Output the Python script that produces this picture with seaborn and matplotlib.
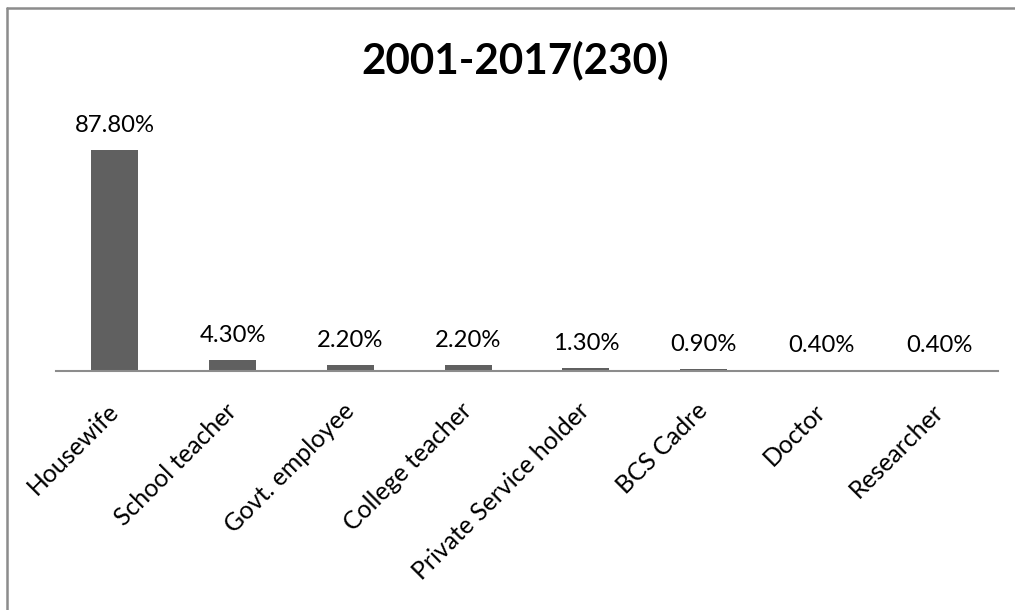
import matplotlib
matplotlib.use("Agg")
import matplotlib.pyplot as plt
from matplotlib.lines import Line2D
import seaborn as sns

# Occupation shares, 2001-2017 (n = 230)
categories = ["Housewife", "School teacher", "Govt. employee", "College teacher",
              "Private Service holder", "BCS Cadre", "Doctor", "Researcher"]
shares = [87.8, 4.3, 2.2, 2.2, 1.3, 0.9, 0.4, 0.4]
value_labels = ["87.80%", "4.30%", "2.20%", "2.20%", "1.30%", "0.90%", "0.40%", "0.40%"]
title_text = "2001-2017(230)"

sns.set_style("white")
plt.rcParams["font.family"] = ["Lato", "DejaVu Sans"]

W, H = 1015, 610
fig = plt.figure(figsize=(W / 100, H / 100), dpi=100)
fig.patch.set_facecolor("white")

# plot area in pixel terms
left_px, right_px, base_px = 56, 998, 371
ax_h_px = 251.7
ax = fig.add_axes([left_px / W, (H - base_px) / H,
                   (right_px - left_px) / W, ax_h_px / H])

sns.barplot(x=categories, y=shares, color="#606060", saturation=1,
            width=0.4, ax=ax, linewidth=0)

ax.set_xlim(-0.5, len(categories) - 0.5)
ax.set_ylim(0, 100)
ax.set_yticks([])
ax.set_xlabel("")
ax.set_ylabel("")
for side in ["left", "right", "top"]:
    ax.spines[side].set_visible(False)
ax.spines["bottom"].set_color("#8c8c8c")
ax.spines["bottom"].set_linewidth(1.5)
ax.spines["bottom"].set_zorder(5)

ax.tick_params(axis="x", length=0, pad=26)
ax.set_xticks(range(len(categories)))
ax.set_xticklabels(categories, rotation=45, ha="right", va="center",
                   rotation_mode="anchor", fontsize=17.8, color="black")

for i, (v, lab) in enumerate(zip(shares, value_labels)):
    ax.annotate(lab, xy=(i, v), xytext=(0, 13), textcoords="offset points",
                ha="center", va="baseline", fontsize=17.2, color="black")

fig.text(515 / W, 1 - 73 / H, title_text, ha="center", va="baseline",
         fontsize=30.3, fontweight="bold", color="black")

# chart frame (left and top edges fall inside the canvas)
fig.add_artist(Line2D([6.5 / W, 6.5 / W], [0, 1 - 7.5 / H],
                      transform=fig.transFigure, color="#8c8c8c", lw=1.8))
fig.add_artist(Line2D([6.5 / W, 1], [1 - 7.5 / H, 1 - 7.5 / H],
                      transform=fig.transFigure, color="#8c8c8c", lw=1.8))

fig.savefig("out.png", dpi=100, facecolor="white")
